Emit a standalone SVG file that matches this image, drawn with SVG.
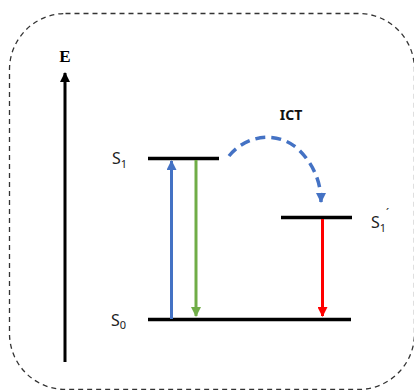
<svg xmlns="http://www.w3.org/2000/svg" width="414" height="390" viewBox="0 0 414 390">
<style>
.lvl{stroke:#000;stroke-width:3.5;fill:none}
.lab{font-family:"Noto Sans","Open Sans",sans-serif;font-size:16px;fill:#222}
.sub{font-size:11px}
</style>
<defs>
<marker id="hk" viewBox="0 0 10 10" refX="9" refY="5" markerWidth="10" markerHeight="12" markerUnits="userSpaceOnUse" orient="auto"><path d="M0,0 L10,5 L0,10 z" fill="#000"/></marker>
<marker id="hb" viewBox="0 0 10 10" refX="9" refY="5" markerWidth="10" markerHeight="10" markerUnits="userSpaceOnUse" orient="auto"><path d="M0,0 L10,5 L0,10 z" fill="#4472C4"/></marker>
<marker id="hg" viewBox="0 0 10 10" refX="9" refY="5" markerWidth="10" markerHeight="10" markerUnits="userSpaceOnUse" orient="auto"><path d="M0,0 L10,5 L0,10 z" fill="#70AD47"/></marker>
<marker id="hr" viewBox="0 0 10 10" refX="9" refY="5" markerWidth="10" markerHeight="10" markerUnits="userSpaceOnUse" orient="auto"><path d="M0,0 L10,5 L0,10 z" fill="#FF0000"/></marker>
</defs>
<rect x="9.5" y="13.5" width="405" height="376" rx="56" ry="56" fill="none" stroke="#333" stroke-width="1.3" stroke-dasharray="5,4"/>
<g id="axis">
<line x1="65" y1="362" x2="65" y2="73" stroke="#000" stroke-width="3" marker-end="url(#hk)"/>
<text x="65" y="62" text-anchor="middle" font-family="Liberation Serif,serif" font-weight="bold" font-size="17" fill="#000">E</text>
</g>
<g id="S1">
<line class="lvl" x1="148" y1="158.5" x2="219" y2="158.5"/>
<text class="lab" x="112" y="164">S<tspan class="sub" dy="4">1</tspan></text>
</g>
<g id="S0">
<line class="lvl" x1="148" y1="319.5" x2="351" y2="319.5"/>
<text class="lab" x="111" y="326">S<tspan class="sub" dy="3">0</tspan></text>
</g>
<g id="S1p">
<line class="lvl" x1="281" y1="217.5" x2="352" y2="217.5"/>
<text class="lab" x="371" y="228">S<tspan class="sub" dy="4">1</tspan><tspan class="sub" dy="-15">´</tspan></text>
</g>
<g id="connectors">
<line x1="171.5" y1="319" x2="171.5" y2="161" stroke="#4472C4" stroke-width="3" marker-end="url(#hb)"/>
<line x1="196" y1="160" x2="196" y2="316" stroke="#70AD47" stroke-width="3" marker-end="url(#hg)"/>
<line x1="322.5" y1="219" x2="322.5" y2="316" stroke="#FF0000" stroke-width="3" marker-end="url(#hr)"/>
<path d="M229,156 C245,136 275,130 297,148 C312,162 321,180 321,202" fill="none" stroke="#4472C4" stroke-width="3.5" stroke-dasharray="10,6" marker-end="url(#hb)"/>
<text x="291" y="120" text-anchor="middle" font-family="Noto Sans,Open Sans,sans-serif" font-weight="bold" font-size="14" fill="#111">ICT</text>
</g>
</svg>
